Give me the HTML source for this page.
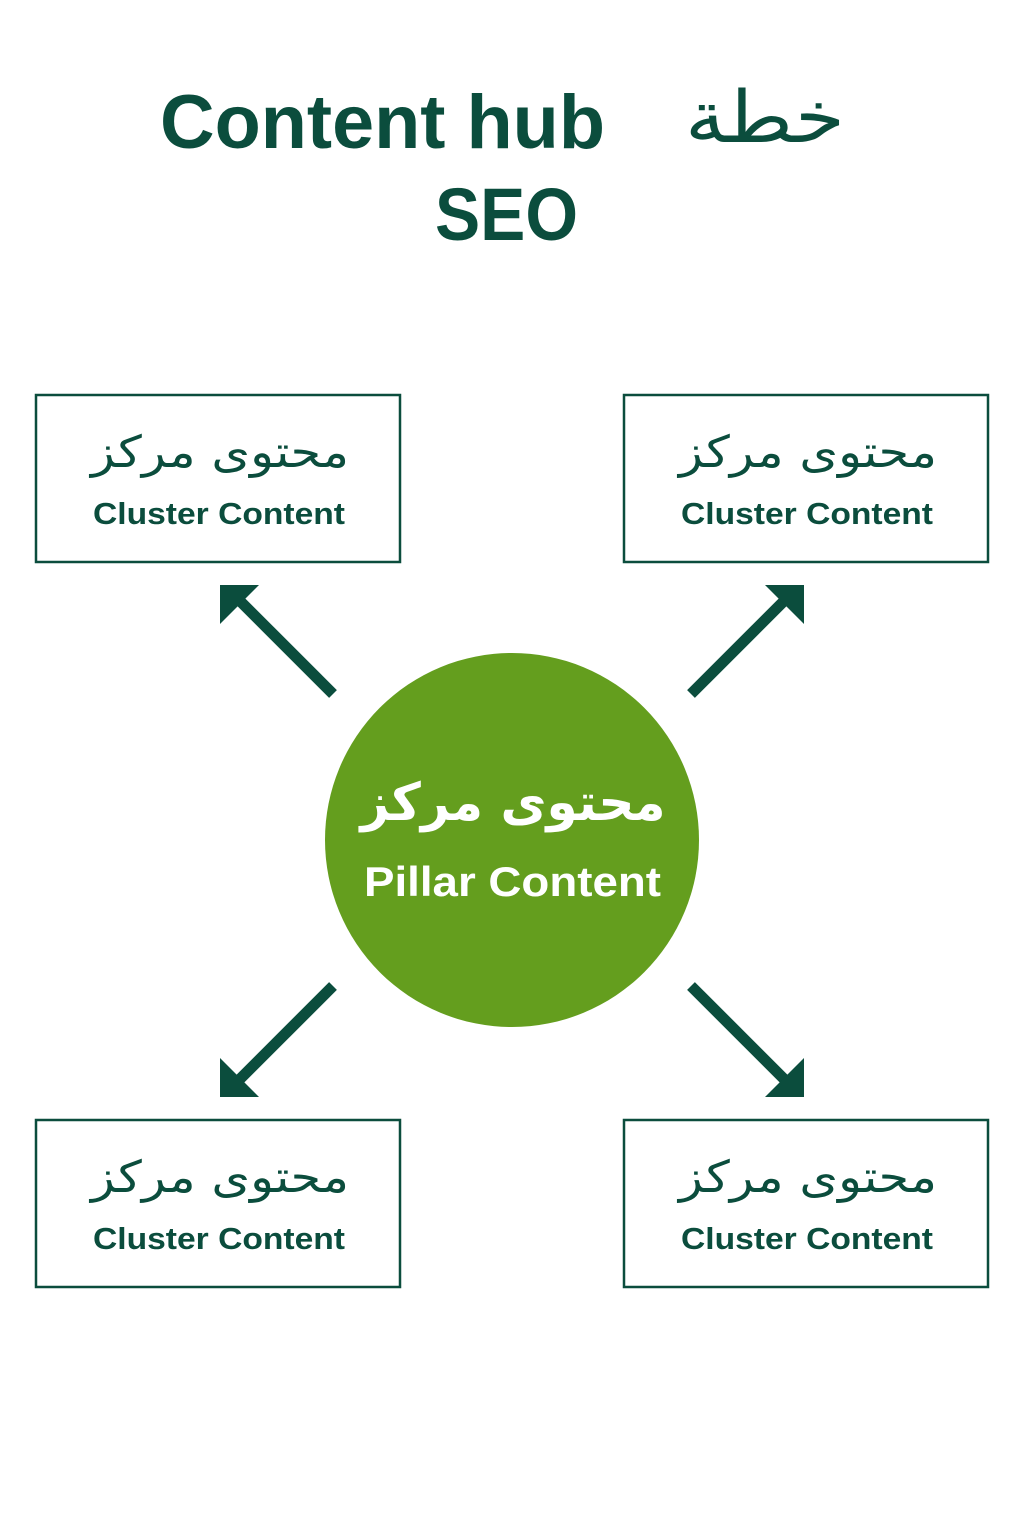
<!DOCTYPE html>
<html><head><meta charset="utf-8"><style>
html,body{margin:0;padding:0;background:#fff;}
svg{display:block}
</style></head><body>
<svg width="1024" height="1536" viewBox="0 0 1024 1536" xmlns="http://www.w3.org/2000/svg">
<rect width="1024" height="1536" fill="#fff"/>
<g fill="#0b4d3d" font-family="'Liberation Sans','DejaVu Sans',sans-serif" font-weight="bold">
<text x="160" y="148" font-size="76" textLength="445" lengthAdjust="spacingAndGlyphs">Content hub</text>
<text x="685" y="142" font-size="72" font-weight="normal" font-family="'DejaVu Sans',sans-serif" textLength="160" lengthAdjust="spacingAndGlyphs">خطة</text>
<text x="435" y="240" font-size="74" textLength="143" lengthAdjust="spacingAndGlyphs">SEO</text>
</g>
<g fill="none" stroke="#0b4d3d" stroke-width="2.5">
<rect x="36" y="395" width="364" height="167"/>
<rect x="624" y="395" width="364" height="167"/>
<rect x="36" y="1120" width="364" height="167"/>
<rect x="624" y="1120" width="364" height="167"/>
</g>
<g fill="#0b4d3d" font-family="'DejaVu Sans',sans-serif">
<g font-size="44" text-anchor="middle">
<text x="220" y="467" textLength="258" lengthAdjust="spacingAndGlyphs">محتوى مركز</text>
<text x="808" y="467" textLength="258" lengthAdjust="spacingAndGlyphs">محتوى مركز</text>
<text x="220" y="1192" textLength="258" lengthAdjust="spacingAndGlyphs">محتوى مركز</text>
<text x="808" y="1192" textLength="258" lengthAdjust="spacingAndGlyphs">محتوى مركز</text>
</g>
<g font-size="31" font-weight="bold" font-family="'Liberation Sans',sans-serif">
<text x="93" y="524" textLength="252" lengthAdjust="spacingAndGlyphs">Cluster Content</text>
<text x="681" y="524" textLength="252" lengthAdjust="spacingAndGlyphs">Cluster Content</text>
<text x="93" y="1249" textLength="252" lengthAdjust="spacingAndGlyphs">Cluster Content</text>
<text x="681" y="1249" textLength="252" lengthAdjust="spacingAndGlyphs">Cluster Content</text>
</g>
</g>
<circle cx="512" cy="840" r="187" fill="#649e1e"/>
<text x="513" y="820" font-size="52" font-weight="bold" fill="#fff" text-anchor="middle" font-family="'DejaVu Sans',sans-serif" textLength="305" lengthAdjust="spacingAndGlyphs">محتوى مركز</text>
<text x="364" y="896" font-size="42" font-weight="bold" fill="#fff" font-family="'Liberation Sans',sans-serif" textLength="297" lengthAdjust="spacingAndGlyphs">Pillar Content</text>
<g stroke="#0b4d3d" stroke-width="11" fill="#0b4d3d">
<line x1="333" y1="694" x2="236" y2="597"/>
<line x1="691" y1="694" x2="788" y2="597"/>
<line x1="333" y1="986" x2="236" y2="1083"/>
<line x1="691" y1="986" x2="788" y2="1083"/>
</g>
<g fill="#0b4d3d">
<polygon points="220,585 259,585 220,624"/>
<polygon points="804,585 765,585 804,624"/>
<polygon points="220,1097 259,1097 220,1058"/>
<polygon points="804,1097 765,1097 804,1058"/>
</g>
</svg>
</body></html>
